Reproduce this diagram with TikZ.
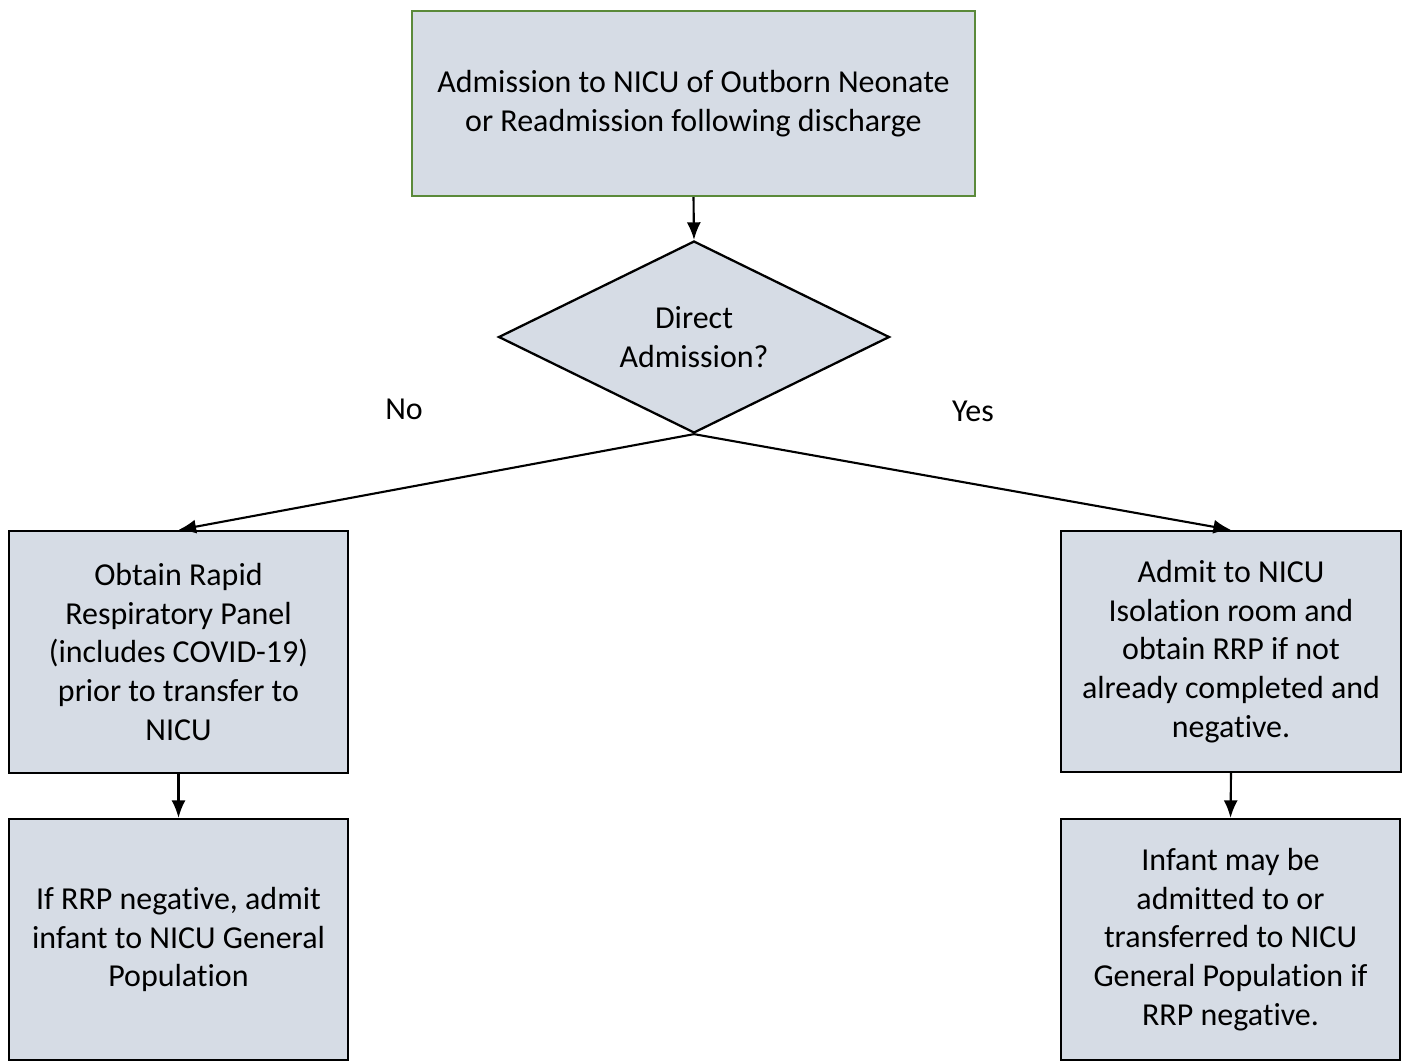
\documentclass[tikz,border=0pt]{standalone}
\usepackage{fontspec}
\setmainfont[Ligatures={NoCommon,NoRequired,NoContextual}]{Carlito}
\usetikzlibrary{shapes.geometric, arrows.meta}

\definecolor{boxfill}{HTML}{D6DCE5}
\definecolor{startgreen}{HTML}{5B8A3A}

\begin{document}
\begin{tikzpicture}[
        x=0.02cm, y=-0.02cm, % 1 unit = 1 px of the layout
        font=\fontsize{18.2}{22.1}\selectfont,
        arrow/.style = {draw, line width=1.2pt, -{Latex[length=10pt, width=8pt]}},
        stepbox/.style = {rectangle, draw, line width=1.3pt, fill=boxfill, align=center, inner sep=0pt}, % Stиль блоков
        decision/.style = {diamond, shape aspect=2.04, draw, line width=1.3pt, fill=boxfill, align=center, inner sep=0pt},
    ]
    \useasboundingbox (0,0) rectangle (1402,1062);

    % start
    \node[stepbox, draw=startgreen, minimum width=11.26cm, minimum height=3.70cm] (start) at (693.5,103.5)
        {Admission to NICU of Outborn Neonate\\or Readmission following discharge};

    % decision
    \node[decision, minimum width=7.82cm, minimum height=3.84cm] (direct) at (694,337)
        {Direct\\Admission?};

    % branch No
    \node[stepbox, minimum width=6.78cm, minimum height=4.84cm] (rrp) at (178.5,652)
        {Obtain Rapid\\Respiratory Panel\\(includes COVID-19)\\prior to transfer to\\NICU};
    \node[stepbox, minimum width=6.78cm, minimum height=4.82cm] (general) at (178.5,939.5)
        {If RRP negative, admit\\infant to NICU General\\Population};

    % branch Yes
    \node[stepbox, minimum width=6.80cm, minimum height=4.82cm] (isolation) at (1231,651.5)
        {Admit to NICU\\Isolation room and\\obtain RRP if not\\already completed and\\negative.};
    \node[stepbox, minimum width=6.78cm, minimum height=4.82cm] (transfer) at (1230.5,939.5)
        {Infant may be\\admitted to or\\transferred to NICU\\General Population if\\RRP negative.};

    % labels
    \node (no) at (404,409) {No};
    \node (yes) at (973,411) {Yes};

    % arrows
    \draw[arrow] (start.south) -- (direct.north);
    \draw[arrow] (direct.south) -- (rrp.north);
    \draw[arrow] (direct.south) -- (isolation.north);
    \draw[arrow] (rrp.south) -- (general.north);
    \draw[arrow] (isolation.south) -- (transfer.north);
\end{tikzpicture}
\end{document}
